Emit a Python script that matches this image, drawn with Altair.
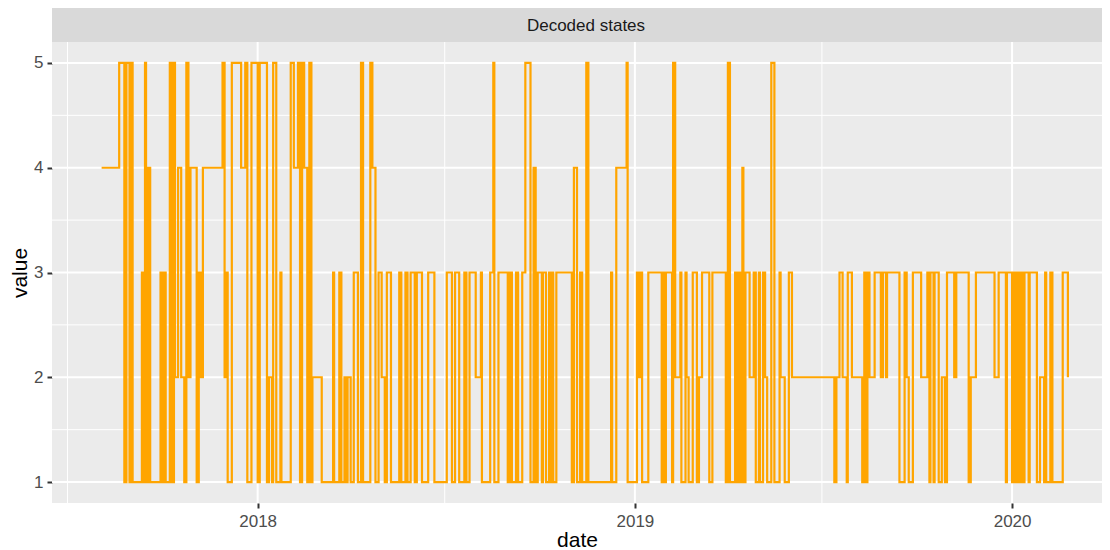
import altair as alt
import pandas as pd

# ---- data ----
start_date = "2017-08-03"
# day offsets (from start_date) at which the decoded state changes
change_day = [0, 17, 22, 24, 27, 28, 30, 39, 40, 42, 43, 45, 47, 57, 58, 60, 62, 66, 68, 70,
              71, 74, 77, 80, 82, 84, 86, 92, 94, 96, 98, 117, 119, 120, 122, 126, 135, 139, 141, 145,
              151, 153, 160, 162, 165, 166, 169, 173, 174, 183, 186, 190, 192, 194, 196, 199, 201, 203, 204, 213,
              224, 225, 230, 232, 235, 237, 238, 241, 244, 248, 251, 253, 260, 262, 265, 268, 271, 274, 276, 280,
              288, 290, 294, 296, 299, 303, 305, 310, 316, 322, 334, 339, 342, 346, 351, 353, 356, 362, 367, 368,
              376, 379, 380, 384, 393, 395, 397, 401, 403, 407, 410, 415, 418, 420, 422, 426, 427, 430, 433, 434,
              436, 437, 440, 455, 457, 460, 463, 465, 469, 471, 493, 494, 498, 508, 509, 518, 519, 521, 523, 529,
              542, 543, 545, 546, 552, 553, 555, 560, 561, 565, 566, 568, 572, 576, 578, 581, 588, 591, 604, 606,
              608, 613, 615, 617, 619, 620, 621, 623, 627, 631, 633, 636, 637, 640, 642, 644, 648, 651, 656, 657,
              661, 665, 668, 709, 711, 714, 717, 721, 722, 726, 736, 738, 739, 741, 743, 748, 754, 756, 759, 760,
              772, 777, 779, 781, 785, 793, 799, 801, 802, 805, 806, 810, 813, 816, 818, 825, 827, 839, 841, 846,
              864, 868, 875, 876, 881, 882, 884, 885, 886, 887, 889, 890, 892, 893, 897, 898, 905, 908, 912, 913,
              914, 918, 920, 930, 935]
state = [4, 5, 1, 5, 1, 5, 1, 3, 1, 5, 1, 4, 1, 3, 1, 3, 1, 5, 1, 5,
         2, 4, 2, 1, 5, 2, 4, 1, 3, 2, 4, 5, 2, 3, 1, 5, 4, 5, 1, 5,
         1, 5, 1, 2, 1, 5, 1, 3, 1, 5, 4, 5, 1, 5, 4, 1, 5, 1, 2, 1,
         3, 1, 3, 1, 2, 1, 2, 1, 3, 1, 5, 1, 5, 4, 1, 3, 2, 1, 3, 1,
         3, 1, 3, 1, 3, 1, 3, 1, 3, 1, 3, 1, 3, 1, 3, 1, 3, 2, 3, 1,
         3, 5, 1, 3, 1, 3, 1, 3, 1, 3, 5, 1, 4, 1, 3, 1, 3, 1, 3, 1,
         3, 1, 3, 1, 4, 1, 3, 1, 5, 1, 3, 1, 4, 5, 1, 3, 2, 3, 1, 3,
         1, 3, 1, 3, 1, 5, 2, 3, 1, 3, 2, 1, 3, 1, 2, 3, 1, 3, 1, 5,
         1, 3, 1, 3, 1, 4, 1, 3, 2, 3, 1, 3, 1, 3, 2, 1, 5, 1, 3, 2,
         1, 3, 2, 1, 2, 3, 2, 1, 3, 2, 1, 3, 1, 3, 2, 3, 2, 3, 2, 3,
         1, 3, 2, 1, 3, 2, 3, 1, 3, 1, 3, 1, 2, 1, 3, 2, 3, 1, 2, 3,
         2, 3, 1, 3, 1, 3, 1, 3, 1, 3, 1, 3, 1, 3, 1, 3, 1, 2, 1, 3,
         1, 3, 1, 3, 2]

major_x = ["2018-01-01", "2019-01-01", "2020-01-01"]
minor_x = ["2017-07-01", "2018-07-01", "2019-07-01"]
major_y = [1, 2, 3, 4, 5]
minor_y = [1.5, 2.5, 3.5, 4.5]
strip_label = "Decoded states"

# ---- table ----
dates = pd.to_datetime(start_date) + pd.to_timedelta(change_day, unit="D")
df = pd.DataFrame({"date": dates.strftime("%Y-%m-%d"), "value": state})

W, H = 1050, 461
FONT = "Liberation Sans"

xscale = alt.Scale(type="utc",
                   domain=[alt.DateTime(year=2017, month=6, date=16, utc=True),
                           alt.DateTime(year=2020, month=3, date=28, utc=True)])
yscale = alt.Scale(domain=[0.8, 5.2], nice=False, zero=False)

xaxis = alt.Axis(values=[alt.DateTime(year=2018, month=1, date=1, utc=True),
                         alt.DateTime(year=2019, month=1, date=1, utc=True),
                         alt.DateTime(year=2020, month=1, date=1, utc=True)],
                 format="%Y", title="date", grid=False, domain=False,
                 tickColor="#333333", tickWidth=2, tickSize=5,
                 labelFont=FONT, labelFontSize=17, labelColor="#4D4D4D", labelPadding=5,
                 titleFont=FONT, titleFontSize=21, titleColor="#000000",
                 titleFontWeight="normal", titlePadding=0)
yaxis = alt.Axis(values=major_y, format="d", title="value", grid=False, domain=False,
                 tickColor="#333333", tickWidth=2, tickSize=5,
                 labelFont=FONT, labelFontSize=17, labelColor="#4D4D4D", labelPadding=4,
                 titleFont=FONT, titleFontSize=21, titleColor="#000000",
                 titleFontWeight="normal", titlePadding=3)

minor_vx = alt.Chart(pd.DataFrame({"date": minor_x})).mark_rule(
    color="white", strokeWidth=1).encode(x=alt.X("date:T", scale=xscale, axis=xaxis))
major_vx = alt.Chart(pd.DataFrame({"date": major_x})).mark_rule(
    color="white", strokeWidth=2).encode(x=alt.X("date:T", scale=xscale, axis=xaxis))
minor_hy = alt.Chart(pd.DataFrame({"value": minor_y})).mark_rule(
    color="white", strokeWidth=1).encode(y=alt.Y("value:Q", scale=yscale, axis=yaxis))
major_hy = alt.Chart(pd.DataFrame({"value": major_y})).mark_rule(
    color="white", strokeWidth=2).encode(y=alt.Y("value:Q", scale=yscale, axis=yaxis))

line = alt.Chart(df).mark_line(interpolate="step-after", color="#FFA500", strokeWidth=2.2).encode(
    x=alt.X("date:T", scale=xscale, axis=xaxis),
    y=alt.Y("value:Q", scale=yscale, axis=yaxis),
)

one = pd.DataFrame({"label": [strip_label]})
strip = alt.Chart(one).mark_rect(color="#D9D9D9").encode(
    x=alt.value(0), x2=alt.value(W), y=alt.value(-34), y2=alt.value(0))
strip_text = alt.Chart(one).mark_text(font=FONT, fontSize=17, color="#1A1A1A",
                                      align="center", baseline="middle").encode(
    x=alt.value(534), y=alt.value(-16), text="label:N")

chart = alt.layer(minor_vx, minor_hy, major_vx, major_hy, line, strip, strip_text).properties(
    width=W, height=H,
    autosize=alt.AutoSizeParams(type="none"),
    padding={"left": 44, "top": 34, "right": 0, "bottom": 47},
).configure_view(fill="#EBEBEB", stroke=None)

chart.save("out.html", embed_options={"renderer": "svg", "actions": False})
